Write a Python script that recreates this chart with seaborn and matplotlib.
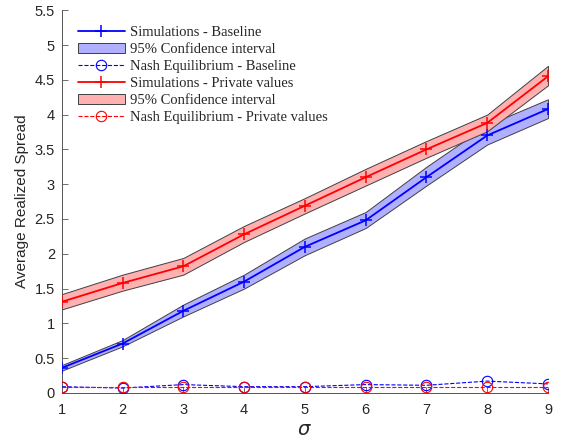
import numpy as np
import pandas as pd
import matplotlib
matplotlib.use("Agg")
import matplotlib.pyplot as plt
import seaborn as sns

sigma = [1, 2, 3, 4, 5, 6, 7, 8, 9]

sim_base = [0.36, 0.71, 1.18, 1.60, 2.10, 2.48, 3.10, 3.70, 4.08]
ci_base_lo = [0.32, 0.67, 1.10, 1.50, 1.98, 2.37, 2.98, 3.57, 3.95]
ci_base_hi = [0.40, 0.76, 1.27, 1.70, 2.22, 2.60, 3.25, 3.85, 4.22]

sim_priv = [1.31, 1.58, 1.82, 2.28, 2.69, 3.10, 3.50, 3.88, 4.55]
ci_priv_lo = [1.20, 1.47, 1.70, 2.17, 2.58, 2.98, 3.38, 3.76, 4.42]
ci_priv_hi = [1.42, 1.70, 1.94, 2.40, 2.80, 3.22, 3.62, 4.00, 4.70]

nash_base = [0.09, 0.07, 0.12, 0.09, 0.09, 0.12, 0.11, 0.17, 0.13]
nash_priv = [0.09, 0.09, 0.09, 0.09, 0.09, 0.09, 0.09, 0.09, 0.09]

labels = [
    "Simulations - Baseline",
    "95% Confidence interval",
    "Nash Equilibrium - Baseline",
    "Simulations - Private values",
    "95% Confidence interval",
    "Nash Equilibrium - Private values",
]

sns.set_style("white")
plt.rcParams["font.family"] = ["Liberation Sans", "DejaVu Sans"]

df = pd.DataFrame({
    "sigma": sigma,
    "sim_base": sim_base,
    "sim_priv": sim_priv,
    "nash_base": nash_base,
    "nash_priv": nash_priv,
})

fig = plt.figure(figsize=(5.62, 4.44), dpi=100)
ax = fig.add_axes([0.110, 0.115, 0.865, 0.862])

blue = "#0000ff"
red = "#ff0000"


def sim_line(col, color):
    sns.lineplot(data=df, x="sigma", y=col, ax=ax, color=color,
                 marker="+", markersize=8, markeredgewidth=1.1,
                 markeredgecolor=color, linewidth=1.3, zorder=4)
    return ax.lines[-1]


def nash_line(col, color):
    sns.lineplot(data=df, x="sigma", y=col, ax=ax, color=color,
                 marker="o", markersize=7.5, markerfacecolor="none",
                 markeredgecolor=color, markeredgewidth=0.8,
                 linewidth=0.8, linestyle="--", zorder=3)
    return ax.lines[-1]


h = []
h.append(sim_line("sim_base", blue))
h.append(ax.fill_between(sigma, ci_base_lo, ci_base_hi, facecolor="#b0b0ff",
                         edgecolor="#404040", linewidth=0.7, zorder=2))
h.append(nash_line("nash_base", blue))
h.append(sim_line("sim_priv", red))
h.append(ax.fill_between(sigma, ci_priv_lo, ci_priv_hi, facecolor="#ffb0b0",
                         edgecolor="#404040", linewidth=0.7, zorder=2))
h.append(nash_line("nash_priv", red))

ax.set_xlim(1, 9)
ax.set_ylim(0, 5.5)
ax.set_xticks(sigma)
ax.set_yticks(np.arange(0, 5.51, 0.5))
ax.set_yticklabels(["0", "0.5", "1", "1.5", "2", "2.5", "3", "3.5", "4", "4.5", "5", "5.5"])
ax.tick_params(axis="both", labelsize=10.5, labelcolor="#262626", colors="#555555",
               direction="in", length=4, width=0.6, bottom=True, left=True)
ax.tick_params(axis="x", pad=7)
ax.tick_params(axis="y", pad=5)
for s in ["top", "right"]:
    ax.spines[s].set_visible(False)
for s in ["left", "bottom"]:
    ax.spines[s].set_color("#555555")
    ax.spines[s].set_linewidth(0.7)

ax.set_xlabel(r"$\sigma$", fontsize=14, color="#262626", labelpad=4)
ax.set_ylabel("Average Realized Spread", fontsize=11, color="#262626", labelpad=4)

ax.legend(h, labels, loc="upper left", bbox_to_anchor=(0.0, 1.0),
          frameon=False, prop={"family": "Liberation Serif", "size": 10.5},
          handlelength=3.2, handletextpad=0.4, labelspacing=0.26,
          borderaxespad=0.7)

fig.savefig("out.png", dpi=100)
